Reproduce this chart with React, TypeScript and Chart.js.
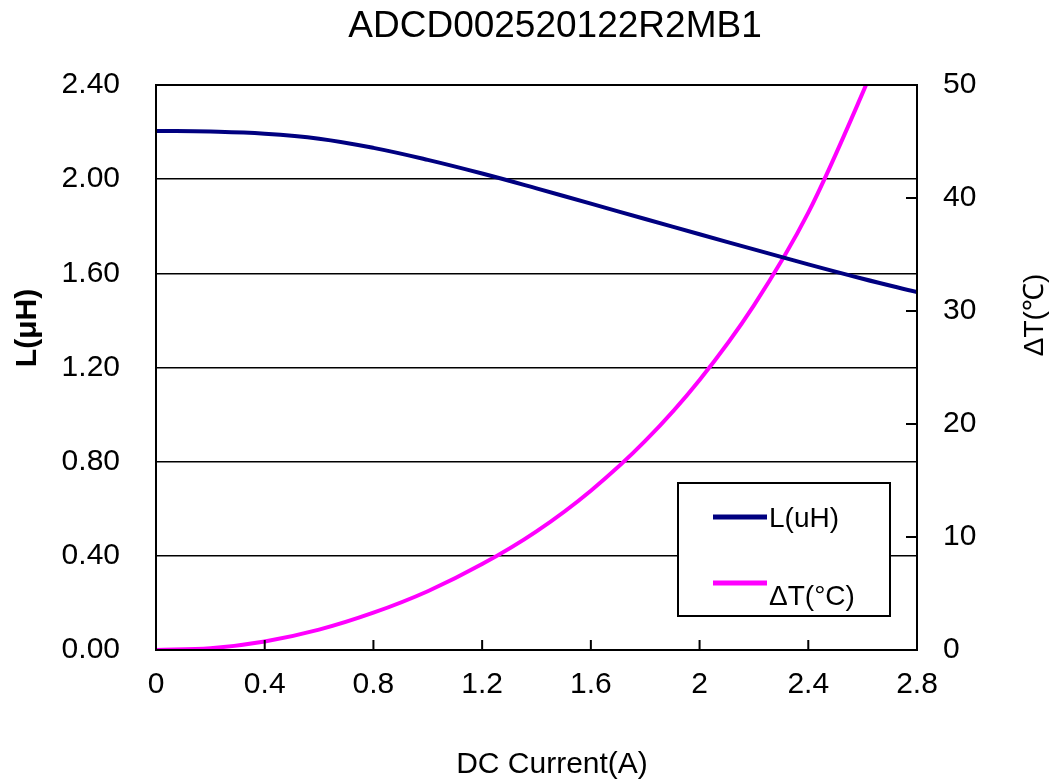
import React, { useEffect, useRef } from "react";
import { Chart, registerables } from "chart.js";

Chart.register(...registerables);

const chartTitle = "ADCD002520122R2MB1";
const xAxisTitle = "DC Current(A)";
const leftAxisTitle = "L(μH)";
const rightAxisTitle = "ΔT(℃)";

const inductanceCurrentA = [0, 0.2, 0.4, 0.6, 0.8, 1.0, 1.2, 1.4, 1.6, 1.8, 2.0, 2.2, 2.4, 2.6, 2.8];
const inductanceUH = [2.205, 2.202, 2.193, 2.172, 2.133, 2.082, 2.024, 1.961, 1.896, 1.831, 1.766, 1.702, 1.638, 1.577, 1.52];

const tempCurrentA = [0, 0.2, 0.4, 0.6, 0.8, 1.0, 1.2, 1.4, 1.6, 1.8, 2.0, 2.2, 2.4, 2.6, 2.65];
const tempRiseC = [0, 0.15, 0.75, 1.8, 3.3, 5.2, 7.6, 10.5, 14.1, 18.5, 23.9, 30.5, 38.7, 49.3, 52.2];

const xTicks = [0, 0.4, 0.8, 1.2, 1.6, 2.0, 2.4, 2.8];
const leftTicks = [0, 0.4, 0.8, 1.2, 1.6, 2.0, 2.4];
const rightTicks = [0, 10, 20, 30, 40, 50];

const seriesLabels = ["L(uH)", "ΔT(°C)"];
const seriesColors = ["#000080", "#FF00FF"];

const FONT = "'Liberation Sans', Arial, sans-serif";

const decorPlugin = {
  id: "decor",
  afterDraw(chart: any) {
    const { ctx, chartArea, scales } = chart;
    const { left, right, top, bottom } = chartArea;
    ctx.save();
    // frame
    ctx.strokeStyle = "#000";
    ctx.lineWidth = 2;
    ctx.strokeRect(left, top, right - left, bottom - top);
    // inward ticks
    ctx.beginPath();
    xTicks.forEach((v) => {
      const px = scales.x.getPixelForValue(v);
      ctx.moveTo(px, bottom);
      ctx.lineTo(px, bottom - 10);
    });
    rightTicks.forEach((v) => {
      const py = scales.y2.getPixelForValue(v);
      ctx.moveTo(right, py);
      ctx.lineTo(right - 11, py);
    });
    ctx.stroke();

    // legend
    const bx = 678, by = 483, bw = 212, bh = 133;
    ctx.fillStyle = "#fff";
    ctx.fillRect(bx, by, bw, bh);
    ctx.lineWidth = 2;
    ctx.strokeStyle = "#000";
    ctx.strokeRect(bx, by, bw, bh);
    const rows = [
      { lineY: 517, textY: 519 },
      { lineY: 583, textY: 597 },
    ];
    chart.data.datasets.forEach((ds: any, i: number) => {
      const r = rows[i];
      ctx.strokeStyle = ds.borderColor;
      ctx.lineWidth = 5;
      ctx.beginPath();
      ctx.moveTo(713, r.lineY);
      ctx.lineTo(767, r.lineY);
      ctx.stroke();
      ctx.fillStyle = "#000";
      ctx.font = `28px ${FONT}`;
      ctx.textAlign = "left";
      ctx.textBaseline = "middle";
      ctx.fillText(ds.label, 769, r.textY);
    });

    // titles
    ctx.fillStyle = "#000";
    ctx.textAlign = "center";
    ctx.textBaseline = "alphabetic";
    ctx.font = `37px ${FONT}`;
    ctx.fillText(chartTitle, 555, 37);
    ctx.font = `30px ${FONT}`;
    ctx.fillText(xAxisTitle, 552, 773);

    ctx.textBaseline = "middle";
    ctx.save();
    ctx.translate(28, 328);
    ctx.rotate(-Math.PI / 2);
    ctx.font = `bold 30px ${FONT}`;
    ctx.fillText(leftAxisTitle, 0, 0);
    ctx.restore();

    ctx.save();
    ctx.translate(1035, 315);
    ctx.rotate(-Math.PI / 2);
    ctx.font = `28px ${FONT}`;
    ctx.fillText(rightAxisTitle, 0, 0);
    ctx.restore();

    ctx.restore();
  },
};

export default function App() {
  const canvasRef = useRef<HTMLCanvasElement | null>(null);

  useEffect(() => {
    if (!canvasRef.current) return;
    const chart = new Chart(canvasRef.current, {
      type: "line",
      data: {
        datasets: [
          {
            label: seriesLabels[0],
            data: inductanceCurrentA.map((x, i) => ({ x, y: inductanceUH[i] })),
            borderColor: seriesColors[0],
            backgroundColor: seriesColors[0],
            borderWidth: 4,
            pointRadius: 0,
            tension: 0.4,
            yAxisID: "y",
          },
          {
            label: seriesLabels[1],
            data: tempCurrentA.map((x, i) => ({ x, y: tempRiseC[i] })),
            borderColor: seriesColors[1],
            backgroundColor: seriesColors[1],
            borderWidth: 4,
            pointRadius: 0,
            cubicInterpolationMode: "monotone",
            yAxisID: "y2",
          },
        ],
      },
      options: {
        animation: false,
        responsive: true,
        maintainAspectRatio: false,
        layout: { padding: { top: 85, left: 0, right: 0, bottom: 0 } },
        plugins: {
          legend: { display: false },
          title: { display: false },
          tooltip: { enabled: false },
        },
        scales: {
          x: {
            type: "linear",
            min: 0,
            max: 2.8,
            afterFit: (s: any) => {
              s.height = 133;
            },
            afterBuildTicks: (s: any) => {
              s.ticks = xTicks.map((v) => ({ value: v }));
            },
            ticks: {
              autoSkip: false,
              maxRotation: 0,
              padding: 17,
              color: "#000",
              font: { family: FONT, size: 30 },
              callback: (v: any) => String(Number(Number(v).toFixed(1))),
            },
            grid: { display: false, drawTicks: false },
            border: { display: false },
          },
          y: {
            position: "left",
            min: 0,
            max: 2.4,
            afterFit: (s: any) => {
              s.width = 156;
            },
            afterBuildTicks: (s: any) => {
              s.ticks = leftTicks.map((v) => ({ value: v }));
            },
            ticks: {
              padding: 36,
              color: "#000",
              font: { family: FONT, size: 30 },
              callback: (v: any) => Number(v).toFixed(2),
            },
            grid: { color: "#000", lineWidth: 1.6, drawTicks: false },
            border: { display: false },
          },
          y2: {
            position: "right",
            min: 0,
            max: 50,
            afterFit: (s: any) => {
              s.width = 142;
            },
            afterBuildTicks: (s: any) => {
              s.ticks = rightTicks.map((v) => ({ value: v }));
            },
            ticks: {
              padding: 26,
              color: "#000",
              font: { family: FONT, size: 30 },
              callback: (v: any) => String(v),
            },
            grid: { display: false, drawTicks: false },
            border: { display: false },
          },
        },
      } as any,
      plugins: [decorPlugin],
    });
    return () => chart.destroy();
  }, []);

  return (
    <div
      style={{
        position: "fixed",
        left: 0,
        top: 0,
        width: 1059,
        height: 783,
        background: "#fff",
      }}
    >
      <canvas ref={canvasRef} />
    </div>
  );
}
